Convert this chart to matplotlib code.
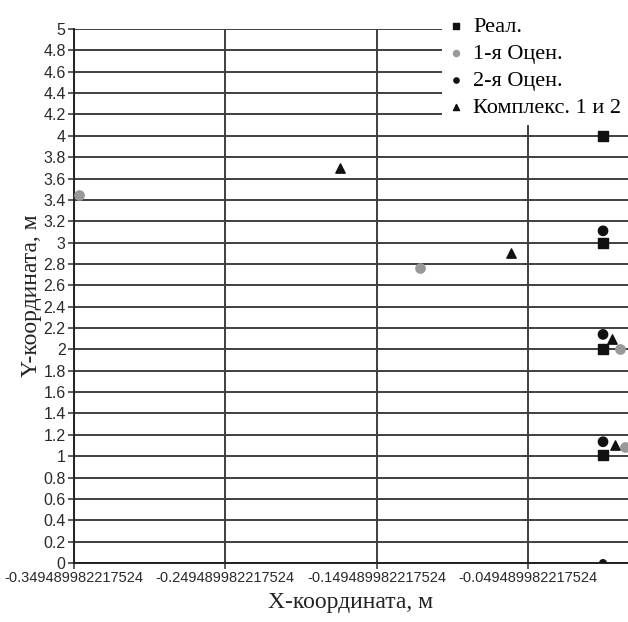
import numpy as np
import matplotlib
matplotlib.use("Agg")
import matplotlib.pyplot as plt

# ── данные ──────────────────────────────────────────────────────────────────
real_x = [0.0, 0.0, 0.0, 0.0]
real_y = [4.0, 3.0, 2.0, 1.01]

est1_x = [-0.3464, -0.1211, 0.0113, 0.0148]
est1_y = [3.45, 2.76, 2.0, 1.09]

est2_x = [0.0, 0.0, 0.0, 0.0]
est2_y = [3.11, 2.14, 1.135, 0.0]

comp_x = [-0.174, -0.0609, 0.006, 0.0078]
comp_y = [3.70, 2.905, 2.095, 1.105]

x_ticks = [-0.349489982217524, -0.249489982217524,
           -0.149489982217524, -0.049489982217524]
x_tick_labels = ["-0.349489982217524", "-0.249489982217524",
                 "-0.149489982217524", "-0.049489982217524"]
y_ticks = np.round(np.arange(0, 5.01, 0.2), 1)
y_tick_labels = [f"{v:g}" for v in y_ticks]

SERIF = ["Liberation Serif", "DejaVu Serif"]
SANS = ["Liberation Sans", "DejaVu Sans"]
GRID = "#3f3f3f"

fig = plt.figure(figsize=(6.28, 6.22), dpi=100)
ax = fig.add_axes([0.1178, 0.0949, 0.8822, 0.8585])

ax.set_xlim(x_ticks[0], 0.0165)
ax.set_ylim(0, 5)

ax.set_xticks(x_ticks)
ax.set_xticklabels(x_tick_labels, family=SANS, fontsize=10.5, color="#2a2a2a")
ax.set_yticks(y_ticks)
ax.set_yticklabels(y_tick_labels, family=SANS, fontsize=11.5, color="#2a2a2a")

ax.grid(True, color=GRID, linewidth=1.4, zorder=0)
ax.set_axisbelow(True)
for s in ["top", "right"]:
    ax.spines[s].set_visible(False)
for s in ["left", "bottom"]:
    ax.spines[s].set_color("#222222")
    ax.spines[s].set_linewidth(1.4)
ax.tick_params(axis="both", length=4, width=1.2, color=GRID, pad=2)

ax.scatter(real_x, real_y, marker="s", s=50, color="#111111", label="Реал.", zorder=3)
ax.scatter(est1_x, est1_y, marker="o", s=45, color="#999999", label="1-я Оцен.", zorder=3)
ax.scatter(est2_x, est2_y, marker="o", s=[45, 45, 45, 22], color="#111111",
           label="2-я Оцен.", zorder=3)
ax.scatter(comp_x, comp_y, marker="^", s=45, color="#111111",
           label="Комплекс. 1 и 2", zorder=3)

ax.set_xlabel("X-координата, м", family=SERIF, fontsize=17, color="#222222", labelpad=5)
ax.set_ylabel("Y-координата, м", family=SERIF, fontsize=17, color="#222222", labelpad=1)

handles, labels = ax.get_legend_handles_labels()
leg = fig.legend(handles, labels, loc="upper right", bbox_to_anchor=(1.0, 0.985),
                 prop={"family": SERIF, "size": 16}, frameon=True, fancybox=False,
                 facecolor="white", edgecolor="none", framealpha=1.0,
                 markerscale=0.65, handlelength=0.6, handletextpad=0.5,
                 labelspacing=0.3, borderpad=0.3, borderaxespad=0.0)
leg.set_zorder(5)

fig.savefig("out.png", dpi=100)
